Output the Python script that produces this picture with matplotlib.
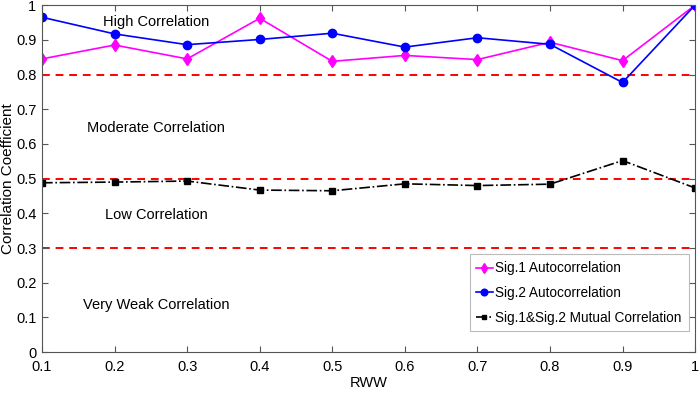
import matplotlib.pyplot as plt
import numpy as np

rww = [0.1, 0.2, 0.3, 0.4, 0.5, 0.6, 0.7, 0.8, 0.9, 1.0]
sig1_auto = [0.845, 0.885, 0.845, 0.962, 0.838, 0.855, 0.843, 0.893, 0.840, 1.0]
sig2_auto = [0.965, 0.917, 0.886, 0.901, 0.919, 0.879, 0.906, 0.887, 0.777, 1.0]
mutual = [0.488, 0.490, 0.493, 0.467, 0.465, 0.485, 0.480, 0.484, 0.552, 0.473]
thresholds = [0.8, 0.5, 0.3]
zones = ["High Correlation", "Moderate Correlation", "Low Correlation", "Very Weak Correlation"]
zone_y = [0.95, 0.645, 0.395, 0.135]

plt.rcParams['font.family'] = ['Liberation Sans', 'DejaVu Sans']

fig = plt.figure(figsize=(7, 3.93), dpi=100)
ax = fig.add_axes([0.06, 0.104, 0.933, 0.883])

for t in thresholds:
    ax.axhline(t, color='red', ls=(0, (4, 3)), lw=1.4, zorder=1)

ax.plot(rww, sig1_auto, color='magenta', marker='d', ms=6, lw=1.2, label='Sig.1 Autocorrelation')
ax.plot(rww, sig2_auto, color='blue', marker='o', ms=6, lw=1.2, label='Sig.2 Autocorrelation')
ax.plot(rww, mutual, color='black', marker='s', ms=4, lw=1.2, ls='-.', label='Sig.1&Sig.2 Mutual Correlation')

for txt, y in zip(zones, zone_y):
    ax.text(0.257, y, txt, ha='center', va='center', fontsize=10.5)

ax.set_xlim(0.1, 1.0)
ax.set_ylim(0, 1)
ax.set_xticks(np.arange(0.1, 1.01, 0.1))
ax.set_xticklabels(['0.1', '0.2', '0.3', '0.4', '0.5', '0.6', '0.7', '0.8', '0.9', '1'])
ax.set_yticks(np.arange(0, 1.01, 0.1))
ax.set_yticklabels(['0', '0.1', '0.2', '0.3', '0.4', '0.5', '0.6', '0.7', '0.8', '0.9', '1'])
ax.tick_params(direction='in', length=4, labelsize=10.5, top=True, right=True, color='#555555')
ax.tick_params(axis='x', pad=6)
ax.tick_params(axis='y', pad=4)
for s in ax.spines.values():
    s.set_color('#555555')
ax.set_xlabel('RWW', fontsize=10.5, labelpad=1)
ax.set_ylabel('Correlation Coefficient', fontsize=11, labelpad=1)

leg = ax.legend(loc='lower right', bbox_to_anchor=(0.99, 0.06), fontsize=9.8, handlelength=1.2,
                handletextpad=0.2, borderpad=0.5, labelspacing=0.78, fancybox=False, markerscale=0.8,
                borderaxespad=0.0)
leg.get_frame().set_edgecolor('#aaaaaa')
leg.get_frame().set_linewidth(0.8)

fig.savefig('out.png', dpi=100)
